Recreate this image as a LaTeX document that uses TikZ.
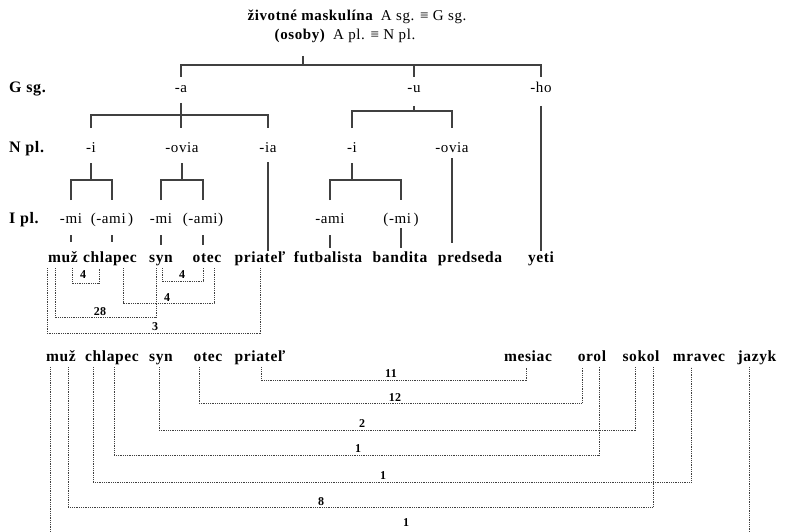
\documentclass[tikz,border=0pt]{standalone}
\usepackage{fontspec}
\setmainfont{Liberation Serif}[LetterSpace=4]
\usetikzlibrary{calc}

\begin{document}
\begin{tikzpicture}[x=1pt,y=-1pt,
	lab/.style={font=\fontsize{15}{15}\selectfont, inner sep=0pt, anchor=base, text height=11pt, text depth=4pt},
	lvl/.style={font=\fontsize{16}{16}\selectfont\bfseries, inner sep=0pt, anchor=base west},
	wrd/.style={font=\fontsize{15.5}{15.5}\selectfont\bfseries, inner sep=0pt, anchor=base, text height=11pt, text depth=6pt},
	num/.style={font=\fontsize{12}{12}\selectfont\bfseries, inner sep=0pt, anchor=base},
	tree/.style={draw=black!75, line width=1.1pt},
	dots/.style={draw=black!75, line width=0.9pt, dash pattern=on 0.9pt off 0.9pt}]
	\clip (0,0) rectangle (789,532);
	% title
	\node[lab] (t1) at (357,21) {\textbf{životné maskulína}\enspace A sg. ≡ G sg.};
	\node[lab] (t2) at (345,40) {\textbf{(osoby)}\enspace A pl. ≡ N pl.};
	\coordinate (root) at (303,56);
	% levels
	\node[lvl] (lg) at (9,93) {G sg.};
	\node[lvl] (ln) at (9,152) {N pl.};
	\node[lvl] (li) at (9,223) {I pl.};
	\node[lab] (ga) at (181,93) {-a};
	\node[lab] (gu) at (414,93) {-u};
	\node[lab] (gho) at (541,93) {-ho};
	\node[lab] (ni1) at (91,152) {-i};
	\node[lab] (nov1) at (182,152) {-ovia};
	\node[lab] (nia) at (268,152) {-ia};
	\node[lab] (ni2) at (352,152) {-i};
	\node[lab] (nov2) at (452,152) {-ovia};
	\node[lab] (imi1) at (71,223) {-mi};
	\node[lab] (iami1) at (112,223) {(-ami\,)};
	\node[lab] (imi2) at (161,223) {-mi};
	\node[lab] (iami2) at (203,223) {(-ami)};
	\node[lab] (iami3) at (330,223) {-ami};
	\node[lab] (imi3) at (401,223) {(-mi\,)};
	% words
	\node[wrd] (mz1) at (63,262) {muž};
	\node[wrd] (ch1) at (110,262) {chlapec};
	\node[wrd] (sy1) at (161,262) {syn};
	\node[wrd] (ot1) at (207,262) {otec};
	\node[wrd] (pr1) at (260,262) {priateľ};
	\node[wrd] (fu) at (328,262) {futbalista};
	\node[wrd] (ba) at (400,262) {bandita};
	\node[wrd] (pe) at (470,262) {predseda};
	\node[wrd] (ye) at (541,262) {yeti};
	\node[wrd] (mz2) at (61,361) {muž};
	\node[wrd] (ch2) at (112,361) {chlapec};
	\node[wrd] (sy2) at (161,361) {syn};
	\node[wrd] (ot2) at (208,361) {otec};
	\node[wrd] (pr2) at (260,361) {priateľ};
	\node[wrd] (me) at (528,361) {mesiac};
	\node[wrd] (or) at (592,361) {orol};
	\node[wrd] (so) at (641,361) {sokol};
	\node[wrd] (mr) at (699,361) {mravec};
	\node[wrd] (jz) at (757,361) {jazyk};
	% tree
	\draw[tree] (root) -- (root |- 0,65);
	\draw[tree] (ga |- 0,77) |- (gho |- 0,65) -- (gho |- 0,77);
	\draw[tree] (gu |- 0,65) -- (gu |- 0,77);
	\draw[tree] (ga |- 0,103) -- (ga |- 0,128);
	\draw[tree] (ni1 |- 0,128) |- (nia |- 0,115) -- (nia |- 0,128);
	\draw[tree] (gu |- 0,106) -- (gu |- 0,111);
	\draw[tree] (ni2 |- 0,128) |- (nov2 |- 0,111) -- (nov2 |- 0,128);
	\draw[tree] (gho |- 0,106) -- (gho |- ye.north);
	\draw[tree] (ni1 |- 0,163) -- (ni1 |- 0,180);
	\draw[tree] (imi1 |- 0,200) |- (iami1 |- 0,180) -- (iami1 |- 0,200);
	\draw[tree] (nov1 |- 0,163) -- (nov1 |- 0,180);
	\draw[tree] (imi2 |- 0,200) |- (iami2 |- 0,180) -- (iami2 |- 0,200);
	\draw[tree] (nia |- 0,162) -- (nia |- pr1.north);
	\draw[tree] (ni2 |- 0,163) -- (ni2 |- 0,180);
	\draw[tree] (iami3 |- 0,200) |- (imi3 |- 0,180) -- (imi3 |- 0,200);
	\draw[tree] (nov2 |- 0,158) -- (nov2 |- 0,243);
	\foreach \n/\e in {imi1/242,iami1/242,imi2/245,iami2/245,iami3/248}{
		\draw[tree] (\n |- 0,235) -- (\n |- 0,\e);
	}
	\draw[tree] (imi3 |- 0,228) -- (imi3 |- 0,248);
	% brackets
	\foreach \a/\da/\b/\db/\h/\t/\tx/\ty [count=\i] in {
		mz1/9/ch1/-11/15/4/83/278, sy1/1/ot1/-4/13/4/182/278,
		ch1/13/ot1/7/35/4/167/301, mz1/-8/sy1/-5/49/28/100/315,
		mz1/-16/pr1/0/65/3/155/330,
		pr2/1/me/-2/13/11/391/377, ot2/-9/or/-10/36/12/395/401,
		sy2/-2/so/-6/63/2/362/427, ch2/2/or/7/88/1/358/452,
		ch2/-19/mr/-8/115/1/383/479, mz2/7/so/12/140/8/321/505,
		mz2/-11/jz/-8/173/1/406/526}{
		\draw[dots] ($(\a.south)+(\da,0)$) -- ++(0,\h) -| ($(\b.south)+(\db,0)$);
		\node[num] (k\i) at (\tx,\ty) {\t};
	}
\end{tikzpicture}
\end{document}
